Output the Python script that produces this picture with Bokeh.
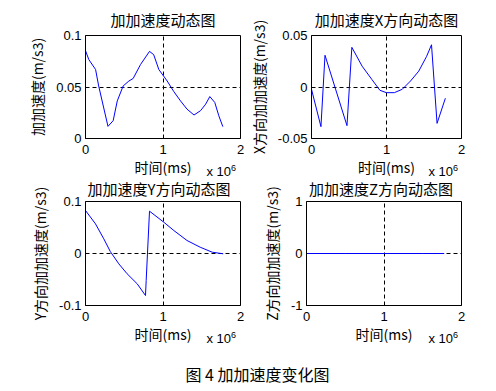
from bokeh.plotting import figure
from bokeh.layouts import column, row
from bokeh.models import FixedTicker, NumeralTickFormatter, Div, Range1d
from bokeh.embed import file_html
from bokeh.resources import INLINE

# ---- data (time axis in units of 1e6 ms) ----
t_total = [0.0, 0.043, 0.13, 0.17, 0.29, 0.357, 0.41, 0.486, 0.56, 0.615, 0.71, 0.826,
           0.88, 0.946, 1.054, 1.14, 1.226, 1.31, 1.40, 1.484, 1.55, 1.604, 1.668, 1.72, 1.772]
j_total = [0.0853, 0.0766, 0.067, 0.051, 0.0118, 0.0173, 0.0365, 0.051, 0.0558, 0.0583, 0.0718, 0.0846,
           0.0814, 0.067, 0.0558, 0.0455, 0.0365, 0.0285, 0.0228, 0.027, 0.0333, 0.0407, 0.035, 0.0221, 0.0115]

t_x = [0.0, 0.126, 0.18, 0.473, 0.538, 0.675, 0.804, 0.912, 0.998, 1.105, 1.21, 1.32, 1.43,
       1.535, 1.6, 1.674, 1.785]
j_x = [-0.0022, -0.0385, 0.0308, -0.0375, 0.0385, 0.0202, 0.0074, -0.0032, -0.0055, -0.0055,
       -0.0022, 0.0058, 0.0154, 0.0298, 0.041, -0.0353, -0.0109]

t_y = [0.0, 0.129, 0.236, 0.32, 0.43, 0.537, 0.667, 0.774, 0.783, 0.826, 1.01, 1.14, 1.31,
       1.48, 1.635, 1.777]
j_y = [0.0827, 0.057, 0.0282, 0.0038, -0.0199, -0.039, -0.0583, -0.0808, -0.052, 0.0814,
       0.0602, 0.0442, 0.025, 0.0121, 0.0025, -0.0006]

t_z = [0.0, 0.5, 1.0, 1.5, 1.777]
j_z = [0.0, 0.0, 0.0, 0.0, 0.0]

x_ticks = [0, 1, 2]
titles = ["加加速度动态图", "加加速度X方向动态图", "加加速度Y方向动态图", "加加速度Z方向动态图"]
ylabels = ["加加速度(m/s3)", "X方向加加速度(m/s3)", "Y方向加加速度(m/s3)", "Z方向加加速度(m/s3)"]
xlabel = "时间(ms)"
multiplier = "x 10"
exponent = "6"
caption = "图 4 加加速度变化图"

CJK = "Noto Sans CJK SC"
LAT = "Liberation Sans"


def make(title, ylabel, t, v, yr, yticks, w, h, bl, br, bt, bb, tstand):
    p = figure(width=w, height=h, x_range=Range1d(0, 2), y_range=Range1d(*yr),
               output_backend="svg", toolbar_location=None,
               min_border_left=bl, min_border_right=br, min_border_top=bt, min_border_bottom=bb)
    p.background_fill_color = "white"
    p.border_fill_color = "white"
    p.outline_line_color = "black"
    p.outline_line_width = 1
    p.outline_line_alpha = 1

    if title:
        p.title.text = title
        p.title.text_font = CJK
        p.title.text_font_size = "15px"
        p.title.text_font_style = "normal"
        p.title.text_color = "black"
        p.title.align = "center"
        p.title.standoff = tstand

    p.xaxis.ticker = FixedTicker(ticks=x_ticks)
    p.yaxis.ticker = FixedTicker(ticks=yticks)
    p.xaxis.formatter = NumeralTickFormatter(format="0")
    p.yaxis.formatter = NumeralTickFormatter(format="0.[00]")
    p.xaxis.axis_label = xlabel
    p.yaxis.axis_label = ylabel
    for ax in (p.xaxis, p.yaxis):
        ax.axis_label_text_font = CJK
        ax.axis_label_text_font_size = "14px"
        ax.axis_label_text_font_style = "normal"
        ax.axis_label_text_color = "black"
        ax.major_label_text_font = LAT
        ax.major_label_text_font_size = "13px"
        ax.major_label_text_color = "black"
        ax.major_tick_in = 0
        ax.major_tick_out = 0
        ax.minor_tick_in = 0
        ax.minor_tick_out = 0
        ax.axis_line_color = "black"
        ax.major_label_standoff = 4
    p.xaxis.major_label_standoff = 6
    p.xaxis.axis_label_standoff = 0
    p.yaxis.axis_label_standoff = 6

    p.xgrid.ticker = FixedTicker(ticks=x_ticks)
    p.ygrid.ticker = FixedTicker(ticks=yticks)
    for g in (p.xgrid, p.ygrid):
        g.grid_line_color = "black"
        g.grid_line_dash = "4 3"
        g.grid_line_width = 1
        g.grid_line_alpha = 1

    p.line(t, v, line_color="#0000ff", line_width=1)
    return p


p1 = make(titles[0], ylabels[0], t_total, j_total, (0, 0.1), [0, 0.05, 0.1],
          245, 185, 85, 5, 35, 47, 11)
p2 = make(titles[1], ylabels[1], t_x, j_x, (-0.05, 0.05), [-0.05, 0, 0.05],
          243, 185, 61, 27, 35, 47, 11)
p3 = make(None, ylabels[2], t_y, j_y, (-0.1, 0.1), [-0.1, 0, 0.1],
          245, 167, 85, 5, 16, 47, 0)
p4 = make(None, ylabels[3], t_z, j_z, (-1, 1), [-1, 0, 1],
          243, 167, 61, 27, 16, 47, 0)


def mult_span(right, top):
    return ('<span style="position:absolute; right:%dpx; top:%dpx; font-family:\'Liberation Sans\'; '
            'font-size:13px; line-height:13px; color:black; white-space:nowrap;">%s'
            '<sup style="font-size:9px; line-height:0;">%s</sup></span>'
            % (right, top, multiplier, exponent))


def title_span(center, top, text):
    return ('<div style="position:absolute; left:%dpx; width:240px; top:%dpx; text-align:center; '
            'font-family:\'Noto Sans CJK SC\'; font-size:15px; line-height:15px; color:black; '
            'white-space:nowrap;">%s</div>' % (center - 120, top, text))


cap = Div(text=('<div style="position:relative; width:488px; height:38px;">'
                + mult_span(252, -187) + mult_span(30, -187)
                + mult_span(252, -20) + mult_span(30, -20)
                + title_span(159, -171, titles[2]) + title_span(381, -171, titles[3])
                + '<div style="text-align:center; font-family:\'Noto Sans CJK SC\'; font-size:16px; '
                'line-height:20px; padding-top:12px; padding-left:27px; color:black;">'
                + caption + '</div></div>'),
          width=488, height=38, margin=(0, 0, 0, 0))

layout = column(row(p1, p2), row(p3, p4), cap)

open("out.html", "w").write(file_html(layout, INLINE))
